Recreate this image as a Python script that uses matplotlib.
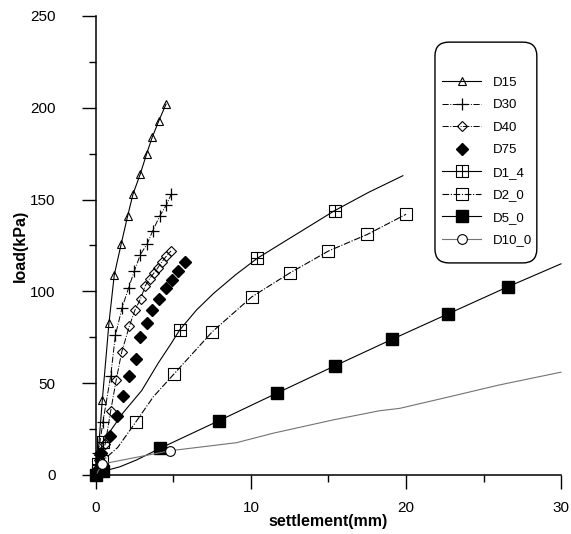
import numpy as np
import matplotlib.pyplot as plt
from matplotlib.path import Path
from matplotlib.patches import FancyBboxPatch

plt.rcParams['font.family'] = ['Liberation Sans', 'DejaVu Sans']

# settlement (mm) vs load (kPa) for each plate test
d15_x = [0.0, 0.15, 0.41, 0.84, 1.18, 1.63, 2.04, 2.39, 2.86, 3.27, 3.63, 4.06, 4.52]
d15_y = [0, 13, 41, 83, 109, 126, 141, 153, 164, 175, 184, 193, 202]

d30_x = [0.0, 0.15, 0.45, 0.95, 1.25, 1.68, 2.11, 2.47, 2.86, 3.31, 3.66, 4.11, 4.54, 4.86]
d30_y = [0, 12, 29, 54, 76, 91, 102, 111, 120, 126, 133, 141, 147, 153]

d40_x = [0.0, 0.2, 0.6, 0.95, 1.31, 1.66, 2.15, 2.52, 2.88, 3.18, 3.46, 3.74, 4.0, 4.24, 4.52, 4.84]
d40_y = [0, 8, 17, 35, 52, 67, 81, 90, 96, 103, 107, 110, 113, 116, 119, 122]

d75_x = [0.1, 0.34, 0.9, 1.35, 1.72, 2.15, 2.58, 2.84, 3.31, 3.59, 4.05, 4.5, 4.88, 5.31, 5.76]
d75_y = [3, 12, 21, 32, 43, 54, 63, 75, 83, 90, 96, 102, 106, 111, 116]

d1_4_x = [0.0, 0.1, 0.43, 1.76, 2.95, 4.02, 4.88, 5.4, 6.5, 7.6, 9.0, 10.4, 12.9, 15.4, 17.6, 19.8]
d1_4_y = [0, 6, 18, 34, 46, 61, 72, 79, 90, 99, 109, 118, 131, 144, 154, 163]
d1_4_marks = [1, 2, 7, 11, 13]

d2_0_x = [0.0, 0.1, 0.41, 1.4, 2.58, 3.7, 5.03, 7.5, 10.05, 12.5, 15.0, 17.5, 20.0]
d2_0_y = [0, 2, 7.6, 15, 29, 42.6, 55, 78, 97, 110, 122, 131, 142]
d2_0_marks = [1, 2, 4, 6, 7, 8, 9, 10, 11, 12]

d5_0_x = [0.0, 0.47, 1.55, 2.62, 4.13, 7.94, 11.65, 15.4, 19.1, 22.7, 26.6, 30.0]
d5_0_y = [0, 2, 4.5, 8.2, 14.5, 29.6, 44.5, 59.4, 73.9, 87.7, 102.6, 115]
d5_0_marks = [0, 1, 4, 5, 6, 7, 8, 9, 10]

d10_0_x = [0.0, 0.4, 4.77, 9.07, 11.4, 15.3, 18.3, 19.6, 22.8, 26.0, 30.0]
d10_0_y = [0, 6, 13.2, 17.6, 22.7, 30, 35, 36.3, 42.6, 49, 56]
d10_0_marks = [1, 2]

# open square with a cross inside
box_cross = Path(
    [(-1, -1), (1, -1), (1, 1), (-1, 1), (-1, -1), (0, -1), (0, 1), (-1, 0), (1, 0)],
    [Path.MOVETO, Path.LINETO, Path.LINETO, Path.LINETO, Path.CLOSEPOLY,
     Path.MOVETO, Path.LINETO, Path.MOVETO, Path.LINETO])

fig = plt.figure(figsize=(5.71, 5.34), dpi=100)
ax = fig.add_axes([0.1681, 0.1105, 0.8144, 0.8596])

ax.plot(d15_x, d15_y, color='k', lw=0.8, marker='^', ms=6, mfc='none', mew=0.8,
        label='D15', clip_on=False)
ax.plot(d30_x, d30_y, color='k', lw=0.7, ls='-.', marker='+', ms=8, mew=0.9,
        label='D30', clip_on=False)
ax.plot(d40_x, d40_y, color='k', lw=0.7, ls='-.', marker='D', ms=5, mfc='none', mew=0.8,
        label='D40', clip_on=False)
ax.plot(d75_x, d75_y, color='k', ls='none', marker='D', ms=6,
        label='D75', clip_on=False)
ax.plot(d1_4_x, d1_4_y, color='k', lw=0.8, marker=box_cross, ms=8, mfc='none', mew=0.8,
        markevery=d1_4_marks, label='D1_4', clip_on=False)
ax.plot(d2_0_x, d2_0_y, color='k', lw=0.8, ls=(0, (6, 1.5, 1, 1.5)), marker='s', ms=8,
        mfc='none', mew=0.8, markevery=d2_0_marks, label='D2_0', clip_on=False)
ax.plot(d5_0_x, d5_0_y, color='k', lw=0.8, marker='s', ms=8,
        markevery=d5_0_marks, label='D5_0', clip_on=False)
ax.plot(d10_0_x, d10_0_y, color='0.45', lw=0.8, marker='o', ms=7, mfc='white', mec='k',
        mew=0.8, markevery=d10_0_marks, label='D10_0', clip_on=False)

ax.set_xlim(0, 30)
ax.set_ylim(0, 250)
ax.set_xticks([0, 10, 20, 30])
ax.set_xticks([5, 15, 25], minor=True)
ax.set_yticks(np.arange(0, 251, 50))
ax.set_yticks(np.arange(25, 250, 50), minor=True)
for s in ['top', 'right']:
    ax.spines[s].set_visible(False)
for s in ['left', 'bottom']:
    ax.spines[s].set_linewidth(1.1)
ax.tick_params(which='major', direction='out', length=10, width=1, labelsize=11)
ax.tick_params(which='minor', direction='out', length=5, width=1)
ax.tick_params(axis='y', which='major', pad=19)
ax.tick_params(axis='x', which='major', pad=9)

ax.set_xlabel('settlement(mm)', fontsize=11.5, fontweight='bold', labelpad=-1)
ax.set_ylabel('load(kPa)', fontsize=11.5, fontweight='bold', labelpad=2)

leg = ax.legend(loc='upper left', bbox_to_anchor=(0.745, 0.868), frameon=False,
                fontsize=9.5, handlelength=2.9, handletextpad=0.95, labelspacing=0.78,
                borderaxespad=0, borderpad=0, numpoints=1)
frame = FancyBboxPatch((0.729, 0.462), 0.219, 0.481,
                       boxstyle='round,pad=0,rounding_size=0.03',
                       transform=ax.transAxes, fc='white', ec='k', lw=1, zorder=4.5)
ax.add_patch(frame)

fig.savefig('out.png', dpi=100)
